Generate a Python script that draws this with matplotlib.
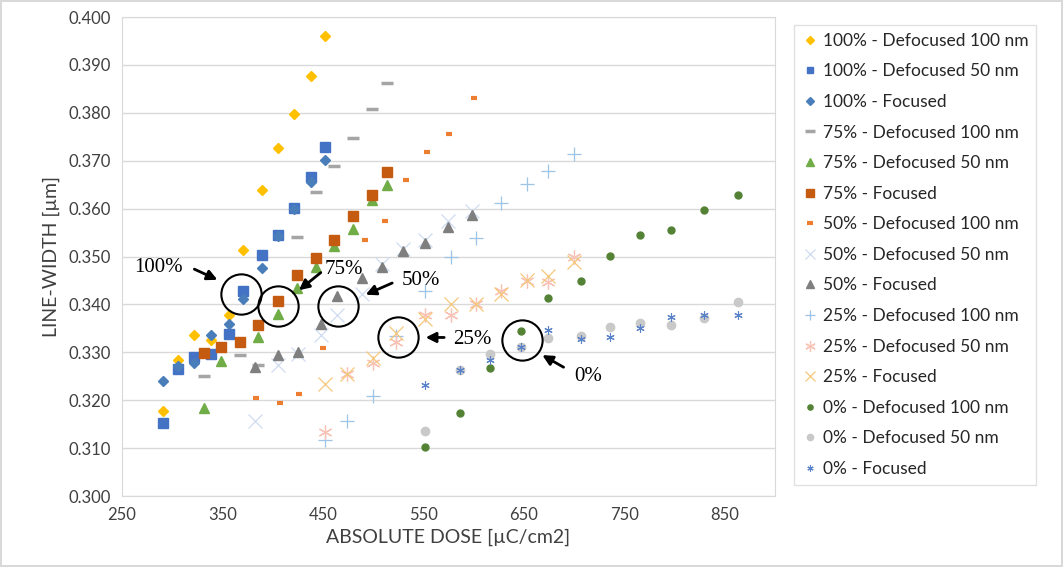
import matplotlib

matplotlib.use("Agg")
import matplotlib.pyplot as plt
from matplotlib.lines import Line2D

plt.rcParams["font.family"] = ["Lato", "DejaVu Sans"]

# --- data (dose in uC/cm2, line width in um) ---
dose_100 = [291, 306, 322, 339, 356, 370, 389, 405, 421, 438, 452]
lw_100_def100 = [0.3177, 0.3283, 0.3337, 0.3325, 0.3377, 0.3514, 0.3638, 0.3726, 0.3798, 0.3877, 0.3961]
lw_100_def50 = [0.3152, 0.3265, 0.3290, 0.3297, 0.3339, 0.3429, 0.3503, 0.3545, 0.3601, 0.3666, 0.3729]
lw_100_foc = [0.3240, 0.3272, 0.3277, 0.3337, 0.3360, 0.3412, 0.3475, 0.3543, 0.3599, 0.3655, 0.3702]

dose_75 = [332, 349, 367, 385, 405, 424, 443, 461, 480, 499, 514]
dose_75_def100 = [332, 367, 385, 424, 443, 461, 480, 499, 514]
lw_75_def100 = [0.3251, 0.3295, 0.3273, 0.3541, 0.3634, 0.3689, 0.3747, 0.3808, 0.3863]
dose_75_def50 = [332, 349, 385, 405, 424, 443, 461, 480, 499, 514]
lw_75_def50 = [0.3184, 0.3281, 0.3332, 0.3380, 0.3434, 0.3478, 0.3522, 0.3557, 0.3617, 0.3649]
lw_75_foc = [0.3299, 0.3311, 0.3322, 0.3356, 0.3408, 0.3462, 0.3496, 0.3535, 0.3584, 0.3628, 0.3677]

dose_50 = [382, 405, 425, 448, 464, 489, 509, 530, 552, 575, 598]
dose_50_def100 = [383, 407, 426, 450, 492, 512, 533, 554, 576, 600]
lw_50_def100 = [0.3204, 0.3194, 0.3213, 0.3308, 0.3535, 0.3575, 0.3660, 0.3719, 0.3755, 0.3831]
lw_50_def50 = [0.3157, 0.3273, 0.3297, 0.3337, 0.3377, 0.3422, 0.3485, 0.3515, 0.3535, 0.3574, 0.3595]
lw_50_foc = [0.3270, 0.3295, 0.3301, 0.3360, 0.3418, 0.3455, 0.3478, 0.3511, 0.3528, 0.3561, 0.3586]

dose_25 = [452, 474, 500, 523, 552, 578, 602, 627, 653, 674, 700]
lw_25_def100 = [0.3117, 0.3157, 0.3209, 0.3334, 0.3429, 0.3500, 0.3538, 0.3611, 0.3651, 0.3678, 0.3715]
lw_25_def50 = [0.3134, 0.3255, 0.3278, 0.3322, 0.3378, 0.3378, 0.3400, 0.3428, 0.3448, 0.3446, 0.3500]
lw_25_foc = [0.3233, 0.3254, 0.3288, 0.3340, 0.3370, 0.3401, 0.3401, 0.3422, 0.3450, 0.3460, 0.3488]

dose_0 = [552, 586, 616, 647, 674, 707, 736, 766, 797, 829, 863]
lw_0_def100 = [0.3103, 0.3173, 0.3268, 0.3344, 0.3413, 0.3448, 0.3502, 0.3545, 0.3555, 0.3597, 0.3628]
lw_0_def50 = [0.3136, 0.3263, 0.3296, 0.3311, 0.3330, 0.3334, 0.3352, 0.3361, 0.3358, 0.3372, 0.3405]
lw_0_foc = [0.3231, 0.3263, 0.3283, 0.3311, 0.3346, 0.3328, 0.3333, 0.3351, 0.3374, 0.3377, 0.3377]

series = [
    ("100% - Defocused 100 nm", dose_100, lw_100_def100, "D", "#FFC000", 5.5, 1),
    ("100% - Defocused 50 nm", dose_100, lw_100_def50, "s", "#4472C4", 6.5, 1),
    ("100% - Focused", dose_100, lw_100_foc, "D", "#4A7EBB", 5.5, 1),
    ("75% - Defocused 100 nm", dose_75_def100, lw_75_def100, "_", "#A5A5A5", 9, 2.5),
    ("75% - Defocused 50 nm", dose_75_def50, lw_75_def50, "^", "#70AD47", 7, 1),
    ("75% - Focused", dose_75, lw_75_foc, "s", "#C55A11", 7, 1),
    ("50% - Defocused 100 nm", dose_50_def100, lw_50_def100, "_", "#ED7D31", 5, 3),
    ("50% - Defocused 50 nm", dose_50, lw_50_def50, "x", "#D0DCF2", 10, 0.9),
    ("50% - Focused", dose_50, lw_50_foc, "^", "#7F7F7F", 7, 1),
    ("25% - Defocused 100 nm", dose_25, lw_25_def100, "+", "#9DC3E6", 10, 0.9),
    ("25% - Defocused 50 nm", dose_25, lw_25_def50, (6, 2, 0), "#F8C3B4", 10, 0.9),
    ("25% - Focused", dose_25, lw_25_foc, "x", "#F4C77A", 10, 0.9),
    ("0% - Defocused 100 nm", dose_0, lw_0_def100, "o", "#548235", 5, 1),
    ("0% - Defocused 50 nm", dose_0, lw_0_def50, "o", "#C9C9C9", 6, 1),
    ("0% - Focused", dose_0, lw_0_foc, (6, 2, 0), "#5A82C8", 6, 0.8),
]

fig = plt.figure(figsize=(10.63, 5.67), dpi=100)
fig.patch.set_edgecolor("#D9D9D9")
fig.patch.set_linewidth(1.5)
ax = fig.add_axes([0.1148, 0.1252, 0.6142, 0.8448])

handles = []
for label, x, y, m, c, ms, mew in series:
    ax.plot(x, y, linestyle="none", marker=m, color=c, markersize=ms,
            markeredgewidth=mew, label=label)
    handles.append(Line2D([], [], linestyle="none", marker=m, color=c,
                          markersize=ms * 0.75, markeredgewidth=mew, label=label))

ax.set_xlim(250, 900)
ax.set_ylim(0.300, 0.400)
ax.set_xticks(range(250, 851, 100))
ax.set_yticks([0.300 + 0.01 * i for i in range(11)])
ax.set_yticklabels([f"{0.300 + 0.01 * i:.3f}" for i in range(11)])
ax.tick_params(length=0, labelsize=12, colors="#404040", pad=8)
ax.yaxis.grid(True, color="#D9D9D9", lw=1)
ax.set_axisbelow(True)
for s in ax.spines.values():
    s.set_color("#D9D9D9")
ax.set_xlabel("ABSOLUTE DOSE [µC/cm2]", fontsize=14, color="#404040", labelpad=4)
ax.set_ylabel("LINE-WIDTH [µm]", fontsize=14, color="#404040", labelpad=6)

# circled groups with arrows and labels
serif = "Liberation Serif"
circles = [(368, 0.3422), (405, 0.3397), (465, 0.3397), (525, 0.3331), (648, 0.3326)]
for cx, cy in circles:
    ax.plot([cx], [cy], marker="o", markersize=29, mfc="none", mec="black", mew=1.5)

arrows = [
    ("100%", (347.5, 0.3449), (319.5, 0.3476), (310, 0.3478), "right"),
    ("75%", (424, 0.3426), (450, 0.3470), (452, 0.3472), "left"),
    ("50%", (490, 0.3418), (521.5, 0.3447), (528.5, 0.3449), "left"),
    ("25%", (549.5, 0.3331), (573.5, 0.3331), (579.5, 0.3326), "left"),
    ("0%", (666, 0.3297), (692, 0.3266), (700, 0.3249), "left"),
]
for txt, tip, tail, tpos, ha in arrows:
    ax.annotate("", xy=tip, xytext=tail,
                arrowprops=dict(arrowstyle="-|>,head_length=0.6,head_width=0.3",
                                color="black", lw=2))
    ax.text(tpos[0], tpos[1], txt, ha=ha, va="center", fontsize=15,
            family=serif, color="black")

leg = fig.legend(handles=handles, loc="upper left",
                 bbox_to_anchor=(794 / 1063, 1 - 25 / 567), fontsize=12.5,
                 frameon=True, fancybox=False, edgecolor="#D9D9D9",
                 labelspacing=0.84, handletextpad=0.2, handlelength=1.0,
                 borderpad=0.45, borderaxespad=0)
for t in leg.get_texts():
    t.set_color("#262626")

fig.savefig("out.png", dpi=100, facecolor="white", edgecolor=fig.get_edgecolor())
